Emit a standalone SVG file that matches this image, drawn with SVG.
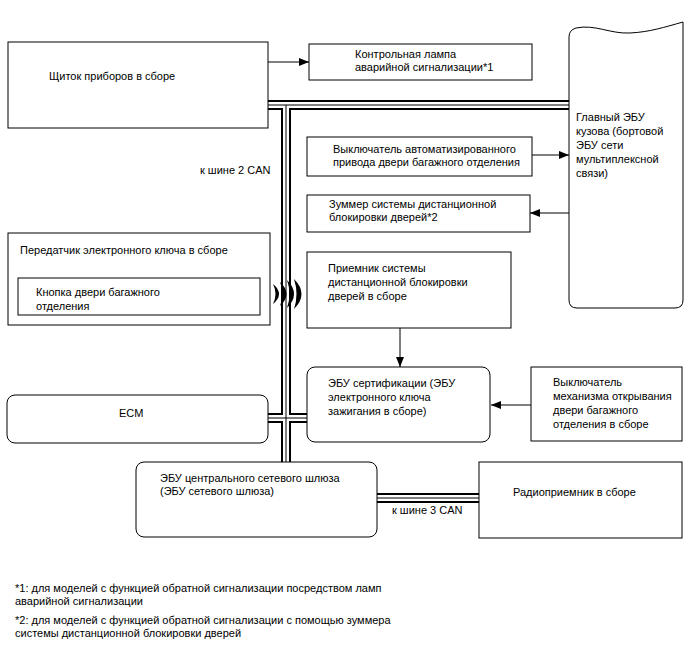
<svg xmlns="http://www.w3.org/2000/svg" width="688" height="658" viewBox="0 0 688 658">
<defs>
<marker id="ah" markerWidth="10" markerHeight="8" refX="10" refY="4" orient="auto" markerUnits="userSpaceOnUse">
<path d="M0,0 L10,4 L0,8 Z" fill="#000"/>
</marker>
<style>
text{font-family:"Liberation Sans",Arial,sans-serif;font-size:11px;fill:#000}
.box{fill:#fff;stroke:#000;stroke-width:1}
.arr{fill:none;stroke:#000;stroke-width:1;marker-end:url(#ah)}
.b1{fill:none;stroke:#000;stroke-width:10}
.b2{fill:none;stroke:#fff;stroke-width:6}
.b3{fill:none;stroke:#000;stroke-width:1}
</style>
</defs>
<rect width="688" height="658" fill="#fff"/>

<g id="connectors">
<g id="bus">
<path class="b1" d="M268,105 H569 M286,105 V462 M268,418 H307 M377,498 H479"/>
<path class="b2" d="M268,105 H569 M286,105 V462 M268,418 H307 M377,498 H479"/>
<path class="b3" d="M268,105 H569 M286,105 V462 M268,418 H307 M377,498 H479"/>
</g>
<g id="waves" fill="#000">
<path d="M273,284 Q285,294 273,304 Q278,294 273,284 Z"/>
<path d="M280,282 Q293,294 280,306 Q285,294 280,282 Z"/>
<path d="M287,280 Q301,294 287,308 Q292,294 287,280 Z"/>
<path d="M294,279 Q309,294 294,309 Q299,294 294,279 Z"/>
</g>
<path class="arr" d="M268,62 H309"/>
<path class="arr" d="M532,155 H569"/>
<path class="arr" d="M569,213 H530"/>
<path class="arr" d="M400,328 V367"/>
<path class="arr" d="M531,405 H491"/>
<text x="200" y="174">к шине 2 CAN</text>
<text x="392" y="514">к шине 3 CAN</text>
</g>

<g id="combination-meter">
<rect class="box" x="8" y="42" width="260" height="86"/>
<text x="49" y="80">Щиток приборов в сборе</text>
</g>

<g id="hazard-lamp">
<rect class="box" x="309" y="44" width="223" height="36"/>
<text x="355" y="58">Контрольная лампа</text>
<text x="355" y="71">аварийной сигнализации*1</text>
</g>

<g id="main-body-ecu">
<path class="box" d="M569,300 L569,37 Q569,30 576,28 C595,24 610,34 630,33 C650,32 665,27 683,22 L683,300 Q683,308 675,308 L577,308 Q569,308 569,300 Z"/>
<text x="576" y="121">Главный ЭБУ</text>
<text x="576" y="135">кузова (бортовой</text>
<text x="576" y="149">ЭБУ сети</text>
<text x="576" y="163">мультиплексной</text>
<text x="576" y="177">связи)</text>
</g>

<g id="power-door-switch">
<rect class="box" x="307" y="137" width="225" height="39"/>
<text x="333" y="153">Выключатель автоматизированного</text>
<text x="333" y="166">привода двери багажного отделения</text>
</g>

<g id="buzzer">
<rect class="box" x="307" y="195" width="223" height="37"/>
<text x="329" y="208">Зуммер системы дистанционной</text>
<text x="329" y="221">блокировки дверей*2</text>
</g>

<g id="transmitter">
<rect class="box" x="8" y="233" width="262" height="92"/>
<text x="20" y="254">Передатчик электронного ключа в сборе</text>
</g>

<g id="back-door-button">
<rect class="box" x="18" y="278" width="242" height="37"/>
<text x="36" y="296">Кнопка двери багажного</text>
<text x="36" y="310">отделения</text>
</g>

<g id="receiver">
<rect class="box" x="307" y="252" width="204" height="76"/>
<text x="328" y="272">Приемник системы</text>
<text x="328" y="286">дистанционной блокировки</text>
<text x="328" y="300">дверей в сборе</text>
</g>

<g id="ecm">
<rect class="box" x="7" y="395" width="261" height="48" rx="8"/>
<text x="119" y="417">ECM</text>
</g>

<g id="certification-ecu">
<rect class="box" x="307" y="367" width="183" height="75" rx="8"/>
<text x="328" y="387">ЭБУ сертификации (ЭБУ</text>
<text x="328" y="401">электронного ключа</text>
<text x="328" y="415">зажигания в сборе)</text>
</g>

<g id="back-door-opener-switch">
<rect class="box" x="531" y="367" width="151" height="74"/>
<text x="553" y="386">Выключатель</text>
<text x="553" y="400">механизма открывания</text>
<text x="553" y="414">двери багажного</text>
<text x="553" y="428">отделения в сборе</text>
</g>

<g id="gateway-ecu">
<rect class="box" x="136" y="462" width="241" height="75" rx="8"/>
<text x="160" y="482">ЭБУ центрального сетевого шлюза</text>
<text x="160" y="495">(ЭБУ сетевого шлюза)</text>
</g>

<g id="radio">
<rect class="box" x="479" y="462" width="203" height="76"/>
<text x="513" y="496">Радиоприемник в сборе</text>
</g>

<g id="footnotes">
<text x="15" y="592">*1: для моделей с функцией обратной сигнализации посредством ламп</text>
<text x="15" y="605">аварийной сигнализации</text>
<text x="15" y="624">*2: для моделей с функцией обратной сигнализации с помощью зуммера</text>
<text x="15" y="637">системы дистанционной блокировки дверей</text>
</g>
</svg>
